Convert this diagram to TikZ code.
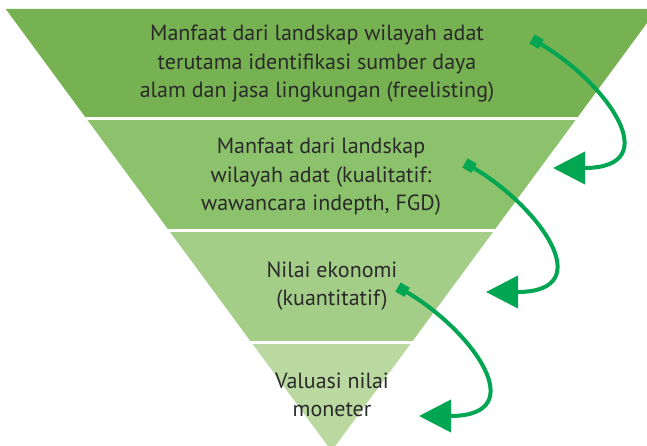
\documentclass[tikz,border=0pt]{standalone}
\usepackage{fontspec}
\setmainfont{PT Sans}
\usetikzlibrary{arrows.meta}
\definecolor{bandA}{HTML}{76B152}
\definecolor{bandB}{HTML}{8CC26B}
\definecolor{bandC}{HTML}{A4CD88}
\definecolor{bandD}{HTML}{B9D9A1}
\definecolor{arr}{HTML}{00A651}
\definecolor{txt}{HTML}{2A2A2A}
\begin{document}
\begin{tikzpicture}[x=1pt,y=-1pt,
  lbl/.style={align=center, text=txt, font=\fontsize{22}{28.5}\selectfont, inner sep=0pt},
  flow/.style={draw=arr, line width=4pt, {Square[length=10.5pt,width=10.5pt]}-{Triangle[length=32pt,width=32pt]}},
  gap/.style={draw=white, line width=3pt}]
\useasboundingbox (0,0) rectangle (647,446);
\begin{scope}
\clip (0,0) rectangle (647,446);
\fill[bandA] (5.7,9) -- (657.3,9) -- (576.3,119) -- (86.7,119) -- cycle;
\fill[bandB] (86.7,119) -- (576.3,119) -- (493.7,231) -- (169.3,231) -- cycle;
\fill[bandC] (169.3,231) -- (493.7,231) -- (411.9,342) -- (251.1,342) -- cycle;
\fill[bandD] (251.1,342) -- (411.9,342) -- (331.5,451) -- cycle;
\draw[gap] (0,119) -- (647,119);
\draw[gap] (0,231) -- (647,231);
\draw[gap] (0,342) -- (647,342);
\end{scope}
\node[lbl] (n1) at (317,64) {Manfaat dari landskap wilayah adat\\terutama identifikasi sumber daya\\alam dan jasa lingkungan (freelisting)};
\node[lbl] (n2) at (321,177) {Manfaat dari landskap\\wilayah adat (kualitatif:\\wawancara indepth, FGD)};
\node[lbl] (n3) at (332,286) {Nilai ekonomi\\(kuantitatif)};
\node[lbl] (n4) at (332,395) {Valuasi nilai\\moneter};
\coordinate (s1) at (532,39);
\coordinate (t1) at (553,168);
\coordinate (s2) at (465,163);
\coordinate (t2) at (486,292);
\coordinate (s3) at (398,287);
\coordinate (t3) at (419,416);
\draw[flow] (s1) .. controls +(74,43) and +(115,0) .. (t1);
\draw[flow] (s2) .. controls +(74,43) and +(115,0) .. (t2);
\draw[flow] (s3) .. controls +(74,43) and +(115,0) .. (t3);
\end{tikzpicture}
\end{document}
